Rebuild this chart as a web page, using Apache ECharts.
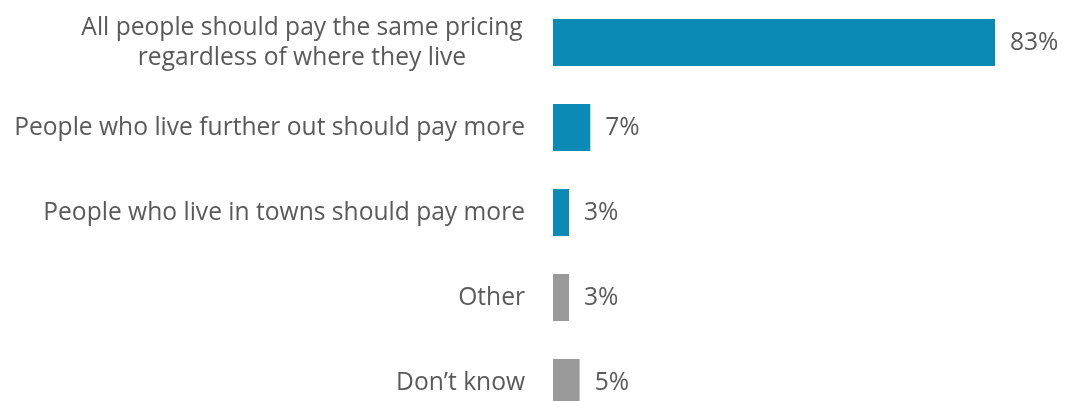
<!DOCTYPE html>
<html>
<head>
<meta charset="utf-8">
<script src="https://cdn.jsdelivr.net/npm/echarts@6/dist/echarts.min.js"></script>
<style>
  html, body { margin: 0; padding: 0; background: #ffffff; }
  #chart { width: 1073px; height: 401px; }
</style>
</head>
<body>
<div id="chart"></div>
<script>
// Survey answers, top to bottom
const categories = [
  'All people should pay the same pricing\nregardless of where they live',
  'People who live further out should pay more',
  'People who live in towns should pay more',
  'Other',
  'Don\u2019t know'
];
const shares = [83, 7, 3, 3, 5];
// 'opinion' answers are blue, residual answers grey
const answerKind = ['opinion', 'opinion', 'opinion', 'residual', 'residual'];

const kindColor = { opinion: '#0b8ab4', residual: '#9a9a9a' };
const textColor = '#5a5a5a';
const fontFamily = '"Open Sans", Lato, sans-serif';
const fontSize = 24.6;

const chart = echarts.init(document.getElementById('chart'));
chart.setOption({
  backgroundColor: '#ffffff',
  animation: false,
  grid: { left: 553, right: 78, top: 0, height: 425, outerBoundsMode: 'none', containLabel: false },
  xAxis: {
    type: 'value', min: 0, max: 83,
    show: false
  },
  yAxis: {
    type: 'category',
    inverse: true,
    data: categories,
    axisLine: { show: false },
    axisTick: { show: false },
    axisLabel: {
      margin: 28,
      color: textColor,
      fontFamily: fontFamily,
      fontSize: fontSize,
      lineHeight: 30,
      formatter: function (v) {
        if (v.indexOf('\n') >= 0) {
          return v.split('\n').map(function (s) { return '{c|' + s + '}'; }).join('\n');
        }
        return v;
      },
      rich: {
        c: { width: 446, align: 'center', color: textColor, fontFamily: fontFamily, fontSize: fontSize, lineHeight: 30 }
      }
    }
  },
  series: [{
    type: 'bar',
    barWidth: 47,
    data: shares.map(function (v, i) {
      return { value: v, itemStyle: { color: kindColor[answerKind[i]] } };
    }),
    label: {
      show: true,
      position: 'right',
      distance: 15,
      color: textColor,
      fontFamily: fontFamily,
      fontSize: fontSize,
      formatter: '{c}%'
    }
  }]
});
</script>
</body>
</html>
